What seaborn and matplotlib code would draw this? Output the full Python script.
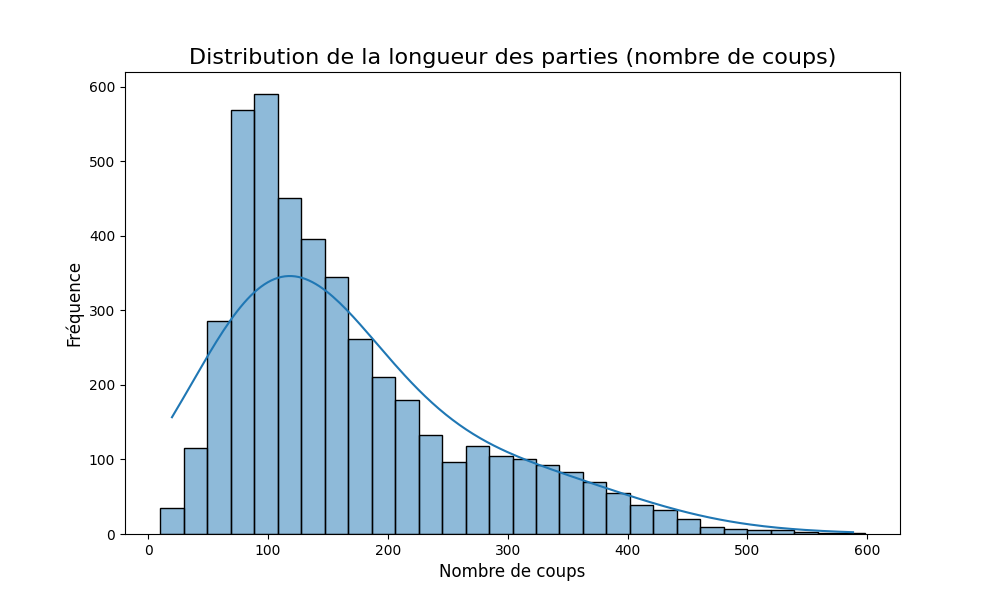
import matplotlib
matplotlib.use("Agg")
import matplotlib.pyplot as plt
import seaborn as sns
import numpy as np
import pandas as pd

bin_start = 10
bin_end = 598
n_bins = 30
counts = [35, 115, 285, 568, 590, 450, 395, 345, 262, 210, 180, 133, 97, 118, 105,
          100, 92, 83, 70, 55, 39, 32, 20, 10, 7, 6, 5, 3, 2, 1]

width = (bin_end - bin_start) / n_bins
centers = bin_start + width * (np.arange(n_bins) + 0.5)
df = pd.DataFrame({"coups": centers, "n": counts})

fig, ax = plt.subplots(figsize=(10, 6), dpi=100)
sns.histplot(data=df, x="coups", weights="n", bins=n_bins, binrange=(bin_start, bin_end),
             kde=True, ax=ax, edgecolor="black")
ax.set_title("Distribution de la longueur des parties (nombre de coups)", fontsize=16)
ax.set_xlabel("Nombre de coups", fontsize=12)
ax.set_ylabel("Fréquence", fontsize=12)
fig.savefig("out.png")
